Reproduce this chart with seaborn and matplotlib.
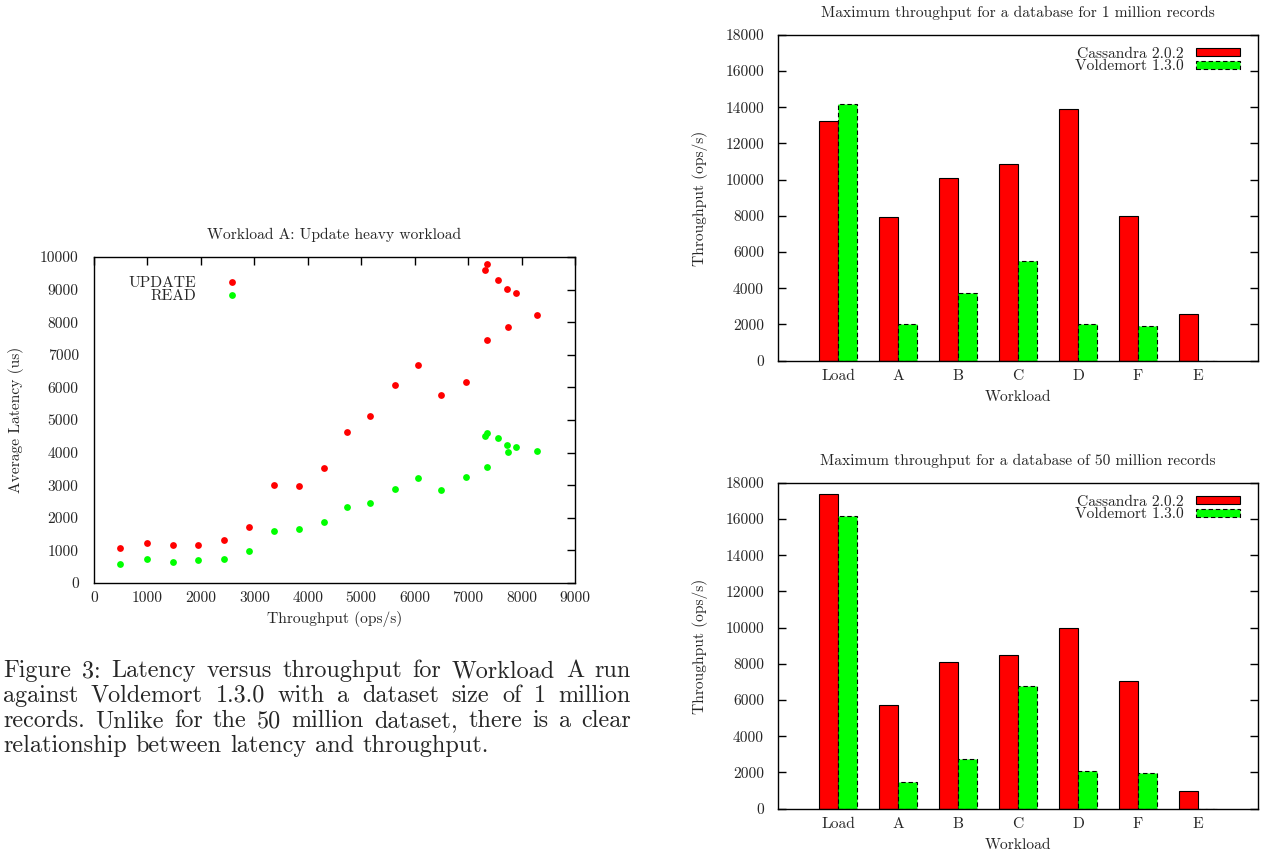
import numpy as np
import pandas as pd
import matplotlib
matplotlib.use("Agg")
import matplotlib.pyplot as plt
import seaborn as sns
from matplotlib.patches import Patch
from matplotlib.lines import Line2D

# ---------------- data ----------------
throughput = [495, 985, 1470, 1950, 2430, 2900, 3360, 3830, 4300, 4735, 5165,
              5630, 6055, 6490, 6960, 7355, 7325, 7355, 7555, 7720, 7890, 7755, 8295]
update_latency = [1085, 1225, 1155, 1175, 1320, 1720, 3015, 2965, 3530, 4620, 5110,
                  6060, 6700, 5775, 6175, 7455, 9610, 9785, 9285, 9020, 8905, 7845, 8230]
read_latency = [595, 735, 645, 695, 745, 990, 1595, 1655, 1880, 2340, 2465,
                2895, 3210, 2855, 3240, 3555, 4510, 4590, 4450, 4245, 4185, 4030, 4040]

workloads = ["Load", "A", "B", "C", "D", "F", "E"]
databases = ["Cassandra 2.0.2", "Voldemort 1.3.0"]
cassandra_1m = [13250, 7950, 10070, 10840, 13900, 8000, 2560]
voldemort_1m = [14200, 2000, 3750, 5500, 2000, 1900, 0]
cassandra_50m = [17400, 5700, 8080, 8500, 9950, 7030, 1000]
voldemort_50m = [16150, 1500, 2720, 6770, 2100, 1950, 0]

scatter_xticks = list(range(0, 9001, 1000))
scatter_yticks = list(range(0, 10001, 1000))
bar_yticks = list(range(0, 18001, 2000))

caption_lines = [
    "Figure 3: Latency versus throughput for Workload A run",
    "against Voldemort 1.3.0 with a dataset size of 1 million",
    "records. Unlike for the 50 million dataset, there is a clear",
    "relationship between latency and throughput.",
]

RED = "#FF0000"
GREEN = "#00FF00"

# ---------------- style ----------------
sns.set_theme(style="white")
plt.rcParams["font.family"] = ["cmr10", "DejaVu Serif"]
plt.rcParams["mathtext.fontset"] = "cm"
plt.rcParams["axes.formatter.use_mathtext"] = True
plt.rcParams["axes.linewidth"] = 1.0
plt.rcParams["axes.edgecolor"] = "black"

FS = 11.2
W, H = 1261, 856
fig = plt.figure(figsize=(W / 100, H / 100), dpi=100)
fig.patch.set_facecolor("white")


def ax_rect(left, top, right, bottom):
    return [left / W, 1 - bottom / H, (right - left) / W, (bottom - top) / H]


def style_axes(ax):
    for s in ax.spines.values():
        s.set_visible(True)
        s.set_color("black")
        s.set_linewidth(1.0)


# ---------------- scatter ----------------
ax1 = fig.add_axes(ax_rect(94, 257, 575, 583))
df_sc = pd.DataFrame({"throughput": throughput,
                      "update": update_latency,
                      "read": read_latency})
sns.scatterplot(data=df_sc, x="throughput", y="update", color=RED, s=24,
                linewidth=0, ax=ax1, legend=False, zorder=3)
sns.scatterplot(data=df_sc, x="throughput", y="read", color=GREEN, s=24,
                linewidth=0, ax=ax1, legend=False, zorder=3)
ax1.set_xlim(0, 9000)
ax1.set_ylim(0, 10000)
ax1.set_xticks(scatter_xticks)
ax1.set_yticks(scatter_yticks)
ax1.set_xticklabels([str(v) for v in scatter_xticks], fontsize=FS)
ax1.set_yticklabels([str(v) for v in scatter_yticks], fontsize=FS)
ax1.tick_params(axis="both", direction="in", length=5.8, width=1.0,
                top=True, right=True, color="black")
ax1.tick_params(axis="x", pad=6.0)
ax1.tick_params(axis="y", pad=11.0)
style_axes(ax1)
ax1.set_title("Workload A: Update heavy workload", fontsize=FS, pad=13)
ax1.set_xlabel("Throughput (ops/s)", fontsize=FS)
ax1.xaxis.set_label_coords(335 / W, 1 - 619 / H, transform=fig.transFigure)
ax1.xaxis.label.set_verticalalignment("center")
ax1.set_ylabel("Average Latency (us)", fontsize=FS)
ax1.yaxis.set_label_coords(16 / W, 1 - 420 / H, transform=fig.transFigure)
ax1.yaxis.label.set_verticalalignment("center")
ax1.yaxis.label.set_horizontalalignment("center")

sc_handles = [Line2D([], [], linestyle="none", marker="o", markersize=4.9,
                     markerfacecolor=RED, markeredgewidth=0),
              Line2D([], [], linestyle="none", marker="o", markersize=4.9,
                     markerfacecolor=GREEN, markeredgewidth=0)]
ax1.legend(sc_handles, ["UPDATE", "READ"], loc="center",
           bbox_to_anchor=((192 - 94) / 481, (583 - 290) / 326),
           frameon=False, markerfirst=False, fontsize=FS,
           handlelength=3.0, handletextpad=0.85, labelspacing=-0.05,
           borderpad=0, borderaxespad=0)


# ---------------- bar charts ----------------
def bar_chart(rect, cass, vold, title, label_y, xlabel_y, legend_y):
    ax = fig.add_axes(rect)
    df = pd.DataFrame({
        "workload": workloads * 2,
        "throughput": list(cass) + list(vold),
        "db": [databases[0]] * len(workloads) + [databases[1]] * len(workloads),
    })
    sns.barplot(data=df, x="workload", y="throughput", hue="db",
                order=workloads, hue_order=databases,
                palette=[RED, GREEN], saturation=1, width=0.63,
                edgecolor="black", linewidth=0.8, errorbar=None,
                legend=False, ax=ax, zorder=2)
    for bar in ax.containers[1]:
        bar.set_linestyle((0, (4, 2.5)))
    ax.set_xlim(-1, 7)
    ax.set_ylim(0, 18000)
    ax.set_yticks(bar_yticks)
    ax.set_yticklabels([str(v) for v in bar_yticks], fontsize=FS)
    ax.set_xticks(range(len(workloads)))
    ax.set_xticklabels(workloads, fontsize=FS)
    ax.tick_params(axis="y", direction="in", length=5.8, width=1.0,
                   left=True, right=True, pad=10, color="black")
    ax.tick_params(axis="x", length=0, pad=6.3)
    style_axes(ax)
    ax.set_title(title, fontsize=FS, pad=12.8)
    ax.set_xlabel("Workload", fontsize=FS)
    ax.xaxis.set_label_coords(1018 / W, 1 - xlabel_y / H, transform=fig.transFigure)
    ax.xaxis.label.set_verticalalignment("center")
    ax.set_ylabel("Throughput (ops/s)", fontsize=FS)
    ax.yaxis.set_label_coords(700 / W, 1 - label_y / H, transform=fig.transFigure)
    ax.yaxis.label.set_verticalalignment("center")
    ax.yaxis.label.set_horizontalalignment("center")
    handles = [Patch(facecolor=RED, edgecolor="black", linewidth=0.8),
               Patch(facecolor=GREEN, edgecolor="black", linewidth=0.8,
                     linestyle=(0, (4, 2.5)))]
    ax.legend(handles, databases, loc="center",
              bbox_to_anchor=(0.791, legend_y), frameon=False,
              markerfirst=False, fontsize=FS, handlelength=2.85,
              handleheight=0.47, handletextpad=0.8, labelspacing=-0.05,
              borderpad=0, borderaxespad=0)
    return ax


bar_chart(ax_rect(778, 34.7, 1258, 360.7), cassandra_1m, voldemort_1m,
          "Maximum throughput for a database for 1 million records",
          198, 396.7, 0.922)
bar_chart(ax_rect(778, 482.7, 1258, 808.7), cassandra_50m, voldemort_50m,
          "Maximum throughput for a database of 50 million records",
          646, 845, 0.922)

# ---------------- caption (justified) ----------------
CAP_FS = 17.4
fig.canvas.draw()
rend = fig.canvas.get_renderer()


def text_width(s):
    t = fig.text(0, 0, s, fontsize=CAP_FS)
    w = t.get_window_extent(rend).width
    t.remove()
    return w


space_px = 0.36 * CAP_FS * 100 / 72
baselines = [677, 702, 727, 752]
right_edge = 631
x0 = 3

for i, line in enumerate(caption_lines):
    words = line.split()
    widths = [text_width(w) for w in words]
    if i < len(caption_lines) - 1:
        gap = (right_edge - x0 - sum(widths)) / (len(words) - 1)
    else:
        gap = space_px
    x = x0
    for w, wd in zip(words, widths):
        fig.text(x / W, 1 - baselines[i] / H, w, fontsize=CAP_FS,
                 ha="left", va="baseline")
        x += wd + gap

fig.savefig("out.png", dpi=100)
